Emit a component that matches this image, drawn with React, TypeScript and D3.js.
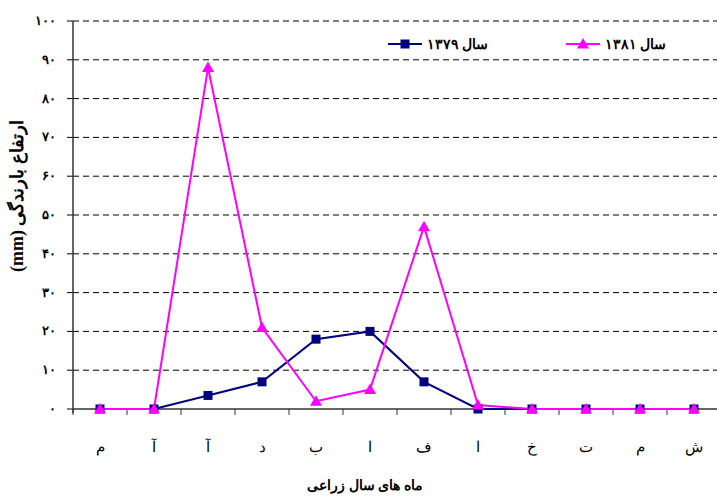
import React from "react";
import * as d3 from "d3";

const months = ["م", "آ", "آ", "د", "ب", "ا", "ف", "ا", "خ", "ت", "م", "ش"];
const series1379 = [0, 0, 3.5, 7, 18, 20, 7, 0, 0, 0, 0, 0];
const series1381 = [0, 0, 88, 21, 2, 5, 47, 1, 0, 0, 0, 0];
const yTicks = [0, 10, 20, 30, 40, 50, 60, 70, 80, 90, 100];
const legendLabels = ["سال ۱۳۷۹", "سال ۱۳۸۱"];

const toFa = (n: number) => String(n).replace(/\d/g, (d) => "۰۱۲۳۴۵۶۷۸۹"[+d]);

export default function App() {
  const W = 717, H = 496;
  const left = 73, right = 721, top = 21, bottom = 409;
  const x = d3.scaleBand<number>().domain(months.map((_, i) => i)).range([left, right]);
  const y = d3.scaleLinear().domain([0, 100]).range([bottom, top]);
  const cx = (i: number) => (x(i) as number) + x.bandwidth() / 2;
  const line = d3.line<number>().x((_, i) => cx(i)).y((d) => y(d));
  const font = "'Times New Roman', 'Liberation Serif', 'DejaVu Serif', serif";
  const tri = (px: number, py: number, s = 6) =>
    `M${px},${py - s} L${px + s},${py + s * 0.75} L${px - s},${py + s * 0.75} Z`;

  return (
    <svg width={W} height={H} style={{ position: "absolute", left: 0, top: 0, background: "#fff" }} fontFamily={font}>
      {yTicks.map((t) => (
        <g key={t}>
          {t > 0 && (
            <line x1={left} x2={right} y1={y(t)} y2={y(t)} stroke="#000" strokeWidth={1} strokeDasharray="6 4" />
          )}
          <line x1={left - 6} x2={left} y1={y(t)} y2={y(t)} stroke="#000" strokeWidth={1} />
          <text x={56} y={y(t) + 4} textAnchor="end" fontSize={13} fontWeight="bold">{toFa(t)}</text>
        </g>
      ))}
      <line x1={left} x2={left} y1={top} y2={bottom + 4} stroke="#333" strokeWidth={1.5} />
      <line x1={left} x2={right} y1={bottom} y2={bottom} stroke="#333" strokeWidth={1.5} />
      {months.map((_, i) => (
        <line key={"t" + i} x1={x(i) as number} x2={x(i) as number} y1={bottom} y2={bottom + 6} stroke="#333" strokeWidth={1} />
      ))}
      {months.map((m, i) => (
        <text key={"m" + i} x={cx(i)} y={452} textAnchor="middle" fontSize={15}>{m}</text>
      ))}
      <path d={line(series1379) || ""} fill="none" stroke="#000080" strokeWidth={2} />
      <path d={line(series1381) || ""} fill="none" stroke="#FF00FF" strokeWidth={2} />
      {series1379.map((v, i) => (
        <rect key={"s" + i} x={cx(i) - 4.5} y={y(v) - 4.5} width={9} height={9} fill="#000080" />
      ))}
      {series1381.map((v, i) => (
        <path key={"p" + i} d={tri(cx(i), y(v))} fill="#FF00FF" />
      ))}
      {/* legend */}
      <line x1={388} x2={422} y1={44} y2={44} stroke="#000080" strokeWidth={2} />
      <rect x={400.5} y={39.5} width={9} height={9} fill="#000080" />
      <text x={488} y={49} textAnchor="end" fontSize={14} fontWeight="bold">{legendLabels[0]}</text>
      <line x1={566} x2={600} y1={44} y2={44} stroke="#FF00FF" strokeWidth={2} />
      <path d={tri(583, 44)} fill="#FF00FF" />
      <text x={666} y={49} textAnchor="end" fontSize={14} fontWeight="bold">{legendLabels[1]}</text>
      <text
        transform={`translate(23,196) rotate(-90)`}
        textAnchor="middle"
        fontSize={18}
        fontWeight="bold"
        direction="rtl"
        style={{ unicodeBidi: "embed" }}
      >
        ارتفاع بارندگی (mm)
      </text>
      <text x={365} y={490} textAnchor="middle" fontSize={14} fontWeight="bold">ماه های سال زراعی</text>
    </svg>
  );
}
